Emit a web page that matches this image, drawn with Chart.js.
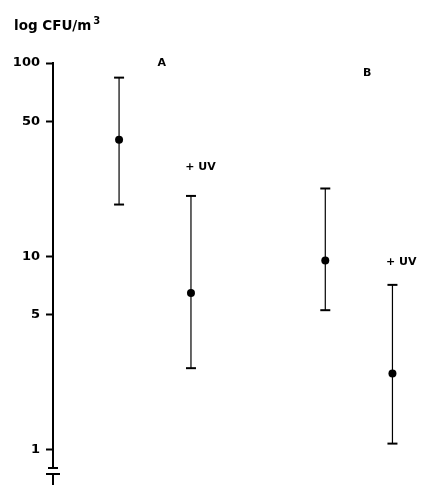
<!DOCTYPE html>
<html>
<head>
<meta charset="utf-8">
<script src="https://cdn.jsdelivr.net/npm/chart.js@4.4.0/dist/chart.umd.min.js"></script>
<style>
  html, body { margin: 0; padding: 0; background: #fff; }
  #wrap { width: 425px; height: 485px; }
</style>
</head>
<body>
<div id="wrap"><canvas id="chart" width="425" height="485"></canvas></div>
<script>
// groups: A, A + UV, B, B + UV
const groups = ['A', 'A + UV', 'B', 'B + UV'];
const xPos = [1.81, 3.78, 7.46, 9.3];
const means = [40, 6.45, 9.5, 2.47];
const upper = [84, 20.5, 22.4, 7.1];
const lower = [18.5, 2.63, 5.25, 1.07];

const yTicks = [1, 5, 10, 50, 100];

// text annotations in data coordinates
const noteText = ['A', '+ UV', 'B', '+ UV'];
const noteX = [2.98, 4.04, 8.61, 9.54];
const noteY = [100, 29, 89, 9.3];

const datasets = [];
groups.forEach((g, i) => {
    datasets.push({
        label: g + ' range',
        data: [{ x: xPos[i], y: lower[i] }, { x: xPos[i], y: upper[i] }],
        showLine: true,
        borderColor: '#000',
        borderWidth: 1.2,
        pointStyle: 'line',
        pointRadius: 5,
        pointBorderWidth: 2,
        pointBorderColor: '#000'
    });
});
datasets.push({
    label: 'mean',
    data: xPos.map((x, i) => ({ x: x, y: means[i] })),
    pointRadius: 4,
    pointBackgroundColor: '#000',
    pointBorderColor: '#000',
    pointBorderWidth: 0
});

const extras = {
    id: 'extras',
    afterDraw(chart) {
        const ctx = chart.ctx;
        const area = chart.chartArea;
        const xs = chart.scales.x, ys = chart.scales.y;
        ctx.save();
        ctx.fillStyle = '#000';
        ctx.strokeStyle = '#000';

        // axis title
        ctx.font = 'bold 13.5px "DejaVu Sans"';
        ctx.textAlign = 'left';
        ctx.textBaseline = 'alphabetic';
        ctx.fillText('log CFU/m', 14, 30);
        const w = ctx.measureText('log CFU/m').width;
        ctx.font = 'bold 10px "DejaVu Sans"';
        ctx.fillText('3', 14 + w + 2, 24);

        // annotations
        ctx.font = 'bold 11px "DejaVu Sans"';
        ctx.textAlign = 'center';
        ctx.textBaseline = 'middle';
        noteText.forEach((t, i) => {
            ctx.fillText(t, xs.getPixelForValue(noteX[i]), ys.getPixelForValue(noteY[i]));
        });

        // axis break at the bottom
        const ax = area.left;
        ctx.lineWidth = 2;
        ctx.beginPath();
        ctx.moveTo(ax - 5, area.bottom);
        ctx.lineTo(ax + 5, area.bottom);
        ctx.moveTo(ax - 7, area.bottom + 6);
        ctx.lineTo(ax + 7, area.bottom + 6);
        ctx.moveTo(ax, area.bottom + 6);
        ctx.lineTo(ax, chart.height);
        ctx.stroke();
        ctx.restore();
    }
};

new Chart(document.getElementById('chart'), {
    type: 'scatter',
    data: { datasets: datasets },
    options: {
        responsive: false,
        animation: false,
        layout: { padding: { top: 63, bottom: 17, left: 0, right: 0 } },
        plugins: { legend: { display: false }, tooltip: { enabled: false } },
        scales: {
            x: { type: 'linear', min: 0, max: 10, display: false },
            y: {
                type: 'logarithmic',
                min: 0.8,
                max: 100,
                afterFit(scale) { scale.width = 53; },
                afterBuildTicks(scale) { scale.ticks = yTicks.map(v => ({ value: v })); },
                grid: { drawOnChartArea: false, tickLength: 7, tickWidth: 2, tickColor: '#000' },
                border: { display: true, color: '#000', width: 2 },
                ticks: {
                    color: '#000',
                    padding: 6,
                    font: { family: 'DejaVu Sans', weight: 'bold', size: 13 },
                    callback: v => String(v)
                }
            }
        }
    },
    plugins: [extras]
});
</script>
</body>
</html>
